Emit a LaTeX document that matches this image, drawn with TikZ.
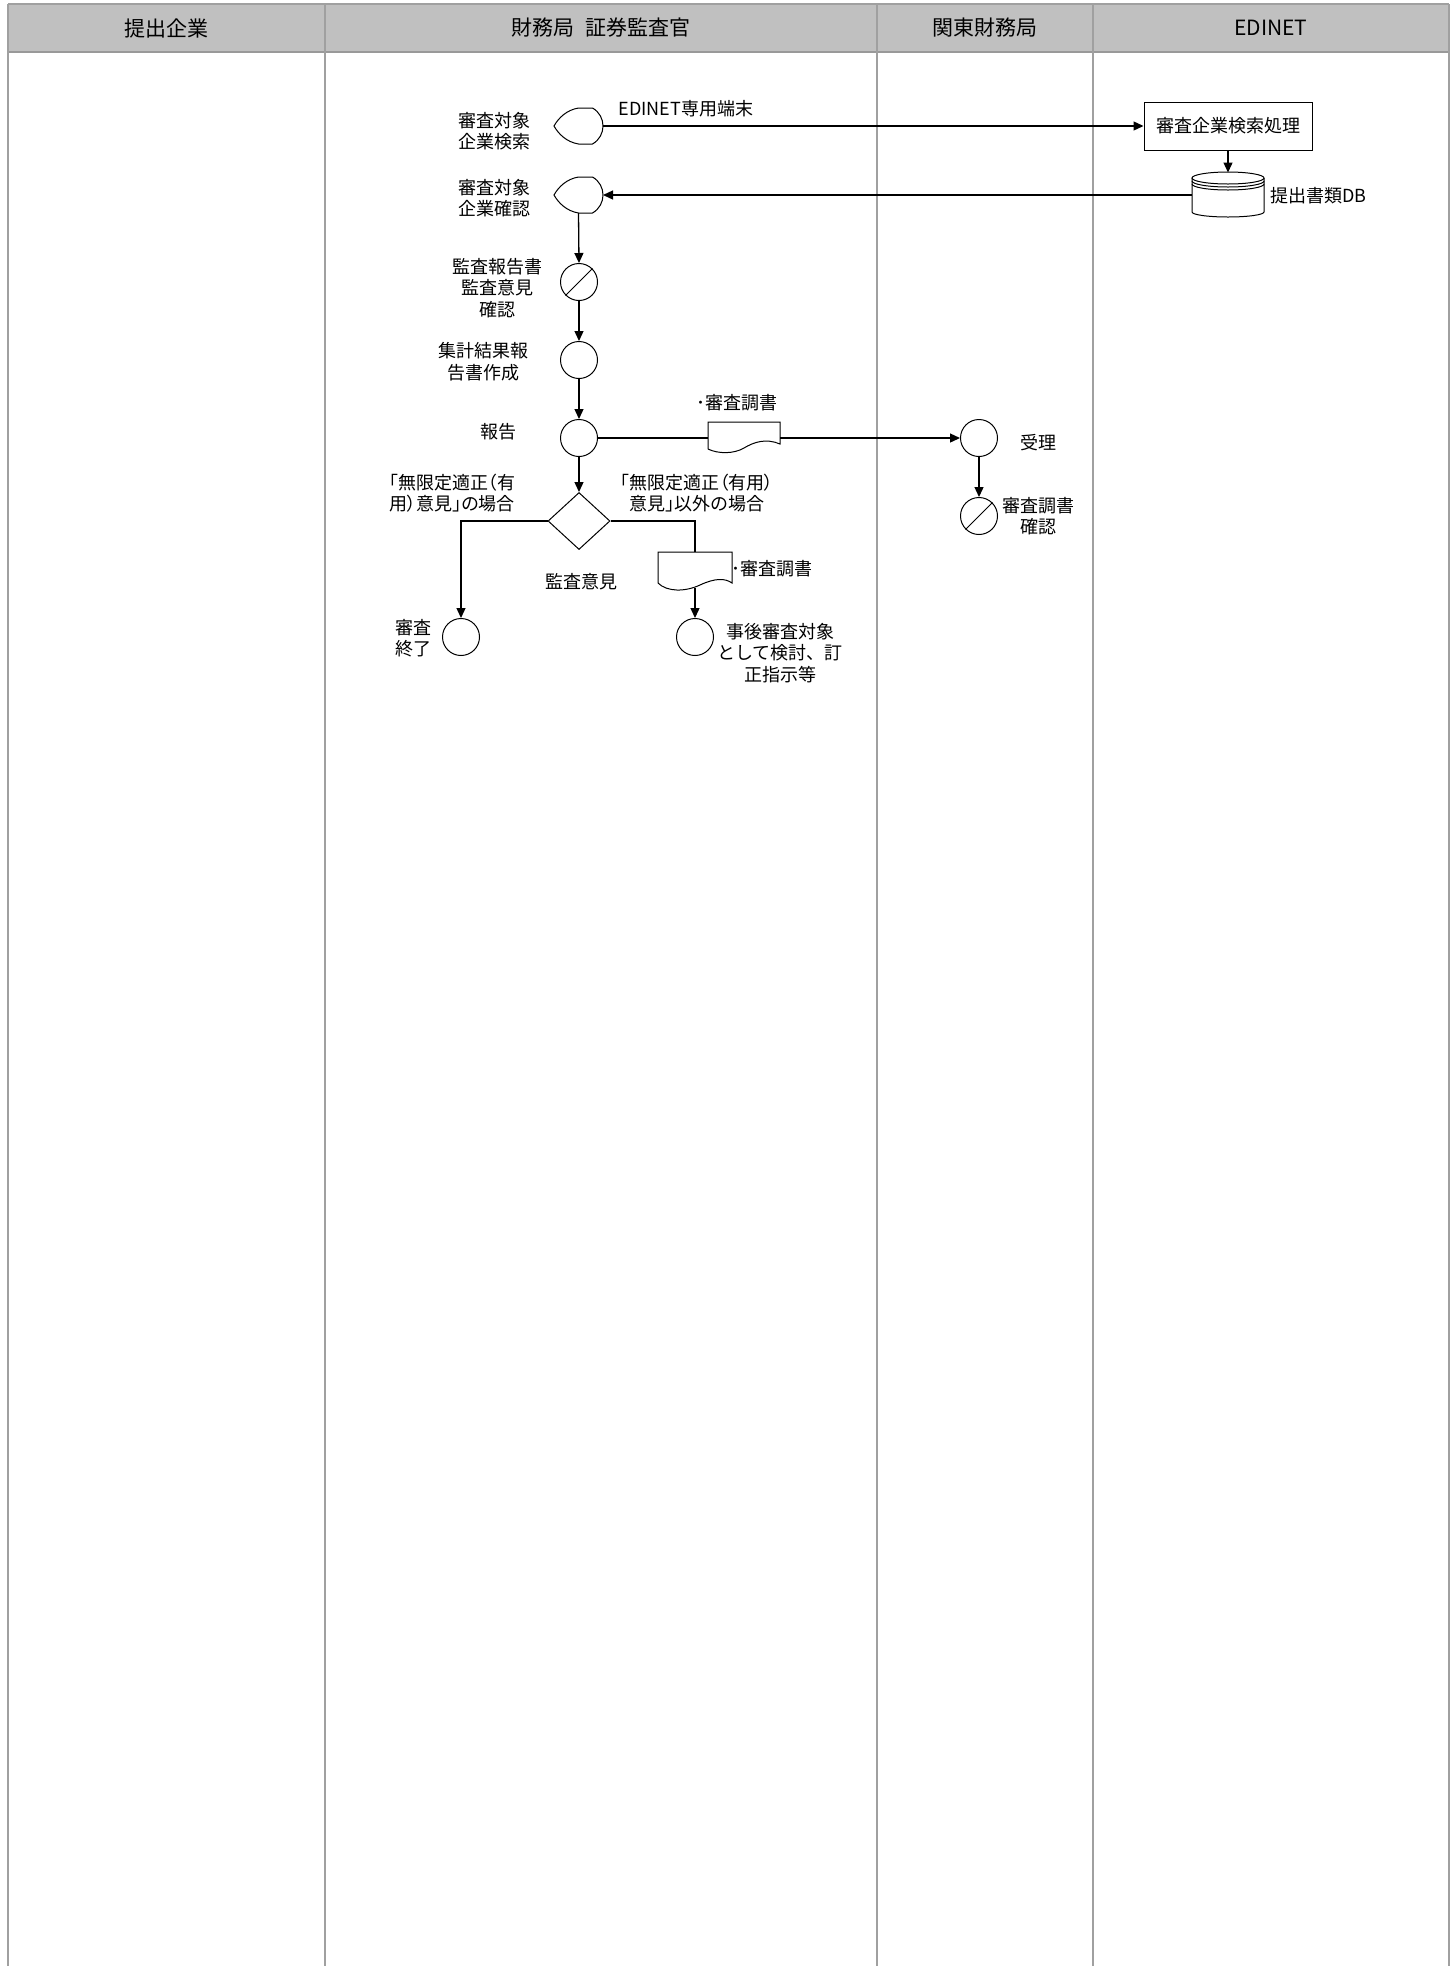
\documentclass[tikz,border=0pt]{standalone}
\usepackage{fontspec}
\setmainfont{Noto Sans CJK JP}
\newfontfamily\pfont[RawFeature=+palt]{Noto Sans CJK JP}
\usetikzlibrary{shapes.geometric,arrows.meta}
\definecolor{hdrfill}{HTML}{C0C0C0}
\definecolor{lanegray}{HTML}{A0A0A0}
\definecolor{hdrline}{HTML}{999999}
\begin{document}
\begin{tikzpicture}[x=0.5pt,y=-0.5pt,
  lane/.style={draw=lanegray, line width=1pt},
  hdrtext/.style={font=\fontsize{10.5}{12}\selectfont, inner sep=0},
  lbl/.style={font=\fontsize{9}{10.8}\selectfont, align=center, inner sep=0},
  plbl/.style={font=\pfont\fontsize{9}{10.8}\selectfont, align=center, inner sep=0},
  shp/.style={draw, line width=0.5pt},
  circ/.style={circle, draw, line width=0.5pt, minimum size=18.5pt, inner sep=0},
  box/.style={draw, line width=0.5pt, minimum width=84pt, minimum height=24pt, inner sep=0, font=\fontsize{9}{10.8}\selectfont},
  ghost/.style={inner sep=0, outer sep=0},
  conn/.style={line width=0.65pt},
  arr/.style={conn, -{Triangle[length=5pt,width=4.5pt]}}
]
\useasboundingbox (0,0) rectangle (1456,1966);
% header
\fill[hdrfill] (8,4) rectangle (1449,52);
\draw[draw=lanegray, line width=0.6pt] (8,4) -- (1449,4);
\draw[draw=hdrline, line width=1.2pt] (8,52) -- (1449,52);
\foreach \xx in {8,325,877,1093,1449} { \draw[lane] (\xx,4) -- (\xx,1966); }
\node[hdrtext] (h1) at (166,28) {提出企業};
\node[hdrtext] (h2) at (601,28) {財務局\hspace{0.5em}証券監査官};
\node[hdrtext] (h3) at (985,28) {関東財務局};
\node[hdrtext] (h4) at (1271,28) {EDINET};

% display shapes
\node[ghost, minimum width=24.5pt, minimum height=18pt] (s1) at (578.5,126) {};
\node[ghost, minimum width=24.5pt, minimum height=18pt] (s2) at (578.5,195) {};
\foreach \s in {s1,s2} {
  \draw[shp, shift={(\s.center)}] (0,-18) .. controls (-12,-16) and (-20,-8) .. (-24.5,0)
    .. controls (-20,8) and (-12,16) .. (0,18) -- (14,18)
    .. controls (21,14) and (24.5,7) .. (24.5,0)
    .. controls (24.5,-7) and (21,-14) .. (14,-18) -- cycle;
}
% circles
\node[circ] (c3) at (579,282) {};
\draw[shp] (c3.225) -- (c3.45);
\node[circ] (c4) at (579,360) {};
\node[circ] (c5) at (579,438) {};
\node[diamond, draw, line width=0.5pt, minimum width=31pt, minimum height=28.5pt, inner sep=0] (dia) at (579,521) {};
\node[circ] (c6) at (979,438) {};
\node[circ] (c9) at (979,516) {};
\draw[shp] (c9.225) -- (c9.45);
\node[circ] (c7) at (461,637) {};
\node[circ] (c8) at (695,637) {};

% process box and DB
\node[box] (r1) at (1228,126) {審査企業検索処理};
\node[ghost, minimum width=36pt, minimum height=22.5pt] (db) at (1228,195) {};
\begin{scope}[shift={(db.center)}]
  \draw[shp] (-36,-17) -- (-36,17) arc[start angle=180, end angle=0, x radius=36, y radius=5] -- (36,-17);
  \draw[shp] (0,-17) ellipse [x radius=36, y radius=6];
  \draw[shp] (-36,-14) arc[start angle=180, end angle=0, x radius=36, y radius=6];
  \draw[shp] (-36,-11) arc[start angle=180, end angle=0, x radius=36, y radius=6];
\end{scope}

% documents
\node[ghost, minimum width=36pt, minimum height=14pt] (doc1) at (744,436) {};
\draw[shp, shift={(doc1.center)}] (-36,13) -- (-36,-14) -- (36,-14) -- (36,8)
  .. controls (22,2) and (10,6) .. (0,12) .. controls (-10,18) and (-26,18) .. (-36,13);
\node[ghost, minimum width=37pt, minimum height=16pt] (doc2) at (695,568) {};
\draw[shp, shift={(doc2.center)}] (-37,15) -- (-37,-16) -- (37,-16) -- (37,15)
  .. controls (30,10) and (20,10) .. (5,17) .. controls (-10,24) and (-28,24) .. (-37,15);
\coordinate (d2b) at (695,588);

% labels
\node[lbl] (l1) at (494,131) {審査対象\\企業検索};
\node[lbl] (l2) at (494,198) {審査対象\\企業確認};
\node[lbl] (l3) at (497,288) {監査報告書\\監査意見\\確認};
\node[lbl] (l4) at (483,362) {集計結果報\\告書作成};
\node[lbl] (l5) at (498,432) {報告};
\node[lbl] (l6) at (686,109) {EDINET専用端末};
\node[lbl] (l7) at (737,403) {･審査調書};
\node[lbl] (l8) at (1038,443) {受理};
\node[lbl] (l9) at (1038,516) {審査調書\\確認};
\node[plbl] (l10) at (452,493) {「無限定適正（有\\用）意見」の場合};
\node[plbl] (l11) at (697,493) {「無限定適正（有用）\\意見」以外の場合};
\node[lbl] (l12) at (581,582) {監査意見};
\node[lbl, anchor=west] (l13) at (731,569) {･審査調書};
\node[lbl] (l14) at (413,638) {審査\\終了};
\node[lbl] (l15) at (780,653) {事後審査対象\\として検討、訂\\正指示等};
\node[lbl, anchor=west] (l16) at (1270,196) {提出書類DB};

% connectors
\draw[arr] (s1.east) -- (r1.west);
\draw[arr] (r1.south) -- (db.north);
\draw[arr] (db.west) -- (s2.east);
\draw[arr] (s2.south) -- (c3.north);
\draw[arr] (c3.south) -- (c4.north);
\draw[arr] (c4.south) -- (c5.north);
\draw[conn] (c5.east) -- (doc1.west |- c5.east);
\draw[arr] (doc1.east |- c6.west) -- (c6.west);
\draw[arr] (c5.south) -- (dia.north);
\draw[arr] (dia.west) -| (c7.north);
\draw[conn] (dia.east) -| (doc2.north);
\draw[arr] (d2b) -- (c8.north);
\draw[arr] (c6.south) -- (c9.north);
\end{tikzpicture}
\end{document}
